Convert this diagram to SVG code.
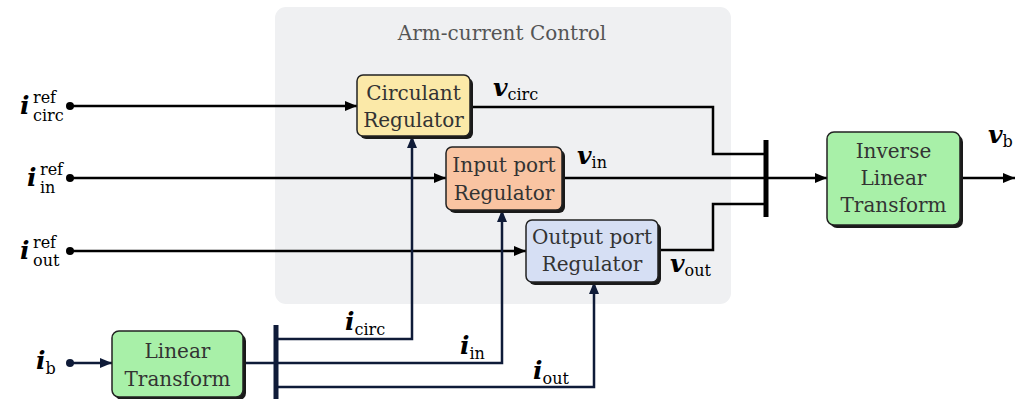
<svg xmlns="http://www.w3.org/2000/svg" width="1023" height="399" viewBox="0 0 1023 399">
  <style>
    .blk { fill: none; stroke: #000; stroke-width: 2.5; }
    .nav { fill: none; stroke: #0f1b38; stroke-width: 2.5; }
    .bar { stroke: #000; stroke-width: 5; }
    .barn { stroke: #0f1b38; stroke-width: 5; }
    .box { stroke: #222; stroke-width: 1.5; }
    .shadow { fill: #1a1a1a; }
    .lbl { font-family: 'DejaVu Serif', serif; font-size: 20px; fill: #333; text-anchor: middle; }
    .title { font-family: 'DejaVu Serif', serif; font-size: 20px; fill: #555; text-anchor: middle; }
    .m { font-family: 'DejaVu Serif', serif; font-size: 25px; font-weight: bold; font-style: italic; fill: #000; }
    .s { font-family: 'DejaVu Serif', serif; font-size: 16px; font-weight: normal; font-style: normal; }
  </style>
  <defs>
    <marker id="ah" viewBox="0 0 12 10" refX="12" refY="5" markerWidth="12" markerHeight="10" markerUnits="userSpaceOnUse" orient="auto">
      <path d="M0,0 L12,5 L0,10 Z" fill="#000"/>
    </marker>
    <marker id="ahn" viewBox="0 0 12 10" refX="12" refY="5" markerWidth="12" markerHeight="10" markerUnits="userSpaceOnUse" orient="auto">
      <path d="M0,0 L12,5 L0,10 Z" fill="#0f1b38"/>
    </marker>
  </defs>

  <rect width="1023" height="399" fill="#fff"/>

  <!-- Arm-current control panel -->
  <g id="panel">
    <rect x="275" y="7" width="456" height="297" rx="11" fill="#eff0f2"/>
    <text class="title" x="502" y="40">Arm-current Control</text>
  </g>

  <!-- connectors -->
  <g id="connectors">
    <!-- reference inputs -->
    <circle cx="70" cy="106" r="4" fill="#000"/>
    <circle cx="70" cy="178" r="4" fill="#000"/>
    <circle cx="70" cy="251" r="4" fill="#000"/>
    <path class="blk" d="M70,106 H357" marker-end="url(#ah)"/>
    <path class="blk" d="M70,178 H446" marker-end="url(#ah)"/>
    <path class="blk" d="M70,251 H526" marker-end="url(#ah)"/>

    <!-- regulator outputs to mux bar -->
    <path class="blk" d="M470,107 H713 V154 H765"/>
    <path class="blk" d="M562,178 H765"/>
    <path class="blk" d="M658,250 H713 V204 H765"/>
    <line class="bar" x1="766" y1="140" x2="766" y2="217"/>
    <path class="blk" d="M766,178 H827" marker-end="url(#ah)"/>
    <path class="blk" d="M960,178 H1015" marker-end="url(#ah)"/>

    <!-- measured current path -->
    <circle cx="70" cy="363" r="4" fill="#0f1b38"/>
    <path class="nav" d="M70,363 H112" marker-end="url(#ahn)"/>
    <path class="nav" d="M243,363 H276"/>
    <line class="barn" x1="276" y1="325" x2="276" y2="399"/>
    <path class="nav" d="M276,339 H412 V136" marker-end="url(#ahn)"/>
    <path class="nav" d="M276,363 H502 V210" marker-end="url(#ahn)"/>
    <path class="nav" d="M276,387 H594 V282" marker-end="url(#ahn)"/>
  </g>

  <!-- signal labels -->
  <g id="labels">
    <text class="m" x="20" y="114">i</text>
    <text class="m" x="33" y="103"><tspan class="s">ref</tspan></text>
    <text class="m" x="33" y="121"><tspan class="s">circ</tspan></text>

    <text class="m" x="27" y="186">i</text>
    <text class="m" x="40" y="175"><tspan class="s">ref</tspan></text>
    <text class="m" x="40" y="193"><tspan class="s">in</tspan></text>

    <text class="m" x="20" y="259">i</text>
    <text class="m" x="33" y="248"><tspan class="s">ref</tspan></text>
    <text class="m" x="33" y="266"><tspan class="s">out</tspan></text>

    <text class="m" x="36" y="369" fill="#0f1b38">i<tspan class="s" dy="5">b</tspan></text>

    <text class="m" x="493" y="96">v<tspan class="s" dy="4">circ</tspan></text>
    <text class="m" x="577" y="164">v<tspan class="s" dy="4">in</tspan></text>
    <text class="m" x="670" y="272">v<tspan class="s" dy="4">out</tspan></text>
    <text class="m" x="988" y="143">v<tspan class="s" dy="4">b</tspan></text>

    <text class="m" x="345" y="330">i<tspan class="s" dy="5">circ</tspan></text>
    <text class="m" x="460" y="354">i<tspan class="s" dy="5">in</tspan></text>
    <text class="m" x="533" y="379">i<tspan class="s" dy="5">out</tspan></text>
  </g>

  <!-- Circulant Regulator -->
  <g id="circulant-regulator">
    <rect class="shadow" x="360" y="78" width="113" height="61" rx="6"/>
    <rect class="box" x="357" y="75" width="113" height="61" rx="6" fill="#fbe9a8"/>
    <text class="lbl" x="413.5" y="100">Circulant</text>
    <text class="lbl" x="413.5" y="127">Regulator</text>
  </g>

  <!-- Input port Regulator -->
  <g id="input-regulator">
    <rect class="shadow" x="449" y="150" width="116" height="63" rx="6"/>
    <rect class="box" x="446" y="147" width="116" height="63" rx="6" fill="#f9c4a2"/>
    <text class="lbl" x="504" y="172">Input port</text>
    <text class="lbl" x="504" y="200">Regulator</text>
  </g>

  <!-- Output port Regulator -->
  <g id="output-regulator">
    <rect class="shadow" x="529" y="223" width="132" height="62" rx="6"/>
    <rect class="box" x="526" y="220" width="132" height="62" rx="6" fill="#d6dff4"/>
    <text class="lbl" x="592" y="244">Output port</text>
    <text class="lbl" x="592" y="271">Regulator</text>
  </g>

  <!-- Inverse Linear Transform -->
  <g id="inverse-linear-transform">
    <rect class="shadow" x="830" y="135" width="133" height="93" rx="7"/>
    <rect class="box" x="827" y="132" width="133" height="93" rx="7" fill="#a8f0a8"/>
    <text class="lbl" x="893.5" y="158">Inverse</text>
    <text class="lbl" x="893.5" y="185">Linear</text>
    <text class="lbl" x="893.5" y="212">Transform</text>
  </g>

  <!-- Linear Transform -->
  <g id="linear-transform">
    <rect class="shadow" x="115" y="334" width="131" height="66" rx="7"/>
    <rect class="box" x="112" y="331" width="131" height="66" rx="7" fill="#a8f0a8"/>
    <text class="lbl" x="177.5" y="358">Linear</text>
    <text class="lbl" x="177.5" y="386">Transform</text>
  </g>
</svg>
